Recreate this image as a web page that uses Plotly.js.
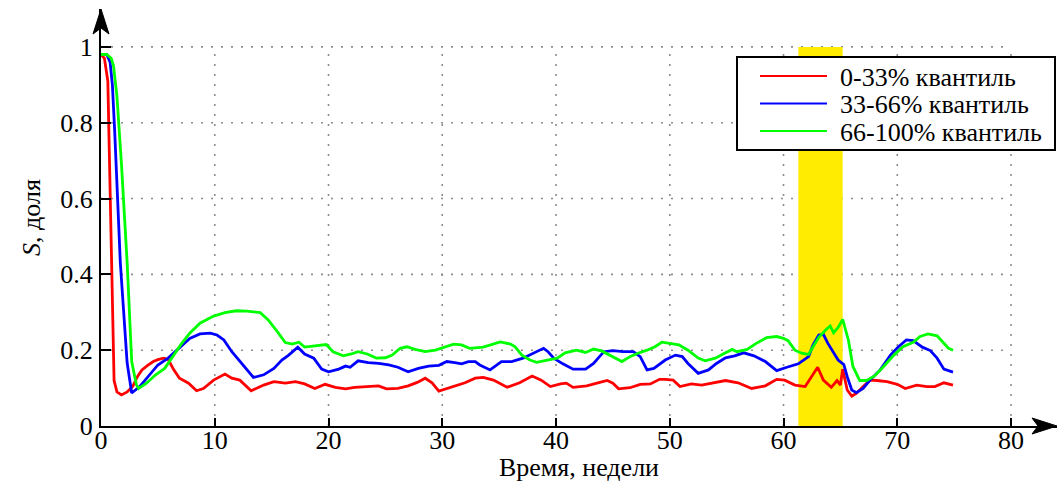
<!DOCTYPE html>
<html>
<head>
<meta charset="utf-8">
<script src="https://cdn.plot.ly/plotly-3.0.1.min.js"></script>
<style>
  html, body { margin: 0; padding: 0; background: #ffffff; }
  #chart { width: 1062px; height: 482px; }
</style>
</head>
<body>
<div id="chart"></div>
<script>
// ---------------- data ----------------
const seriesNames = ['0-33% квантиль', '33-66% квантиль', '66-100% квантиль'];
const seriesColors = ['#ff0000', '#0000ff', '#00ff00'];

const redX = [0,0.3,0.6,0.8,1.0,1.15,1.4,1.8,2.3,2.8,3.2,3.6,4.1,4.6,5.0,5.5,5.9,6.4,6.9,7.7,8.4,9.0,9.9,10.9,11.5,12.2,13.2,14.3,15.2,16.2,17.1,17.9,18.8,19.7,20.6,21.5,22.3,23.4,24.4,25.1,26.1,27.0,27.8,28.5,29.1,29.7,30.2,31.1,32.0,32.9,33.6,34.5,35.7,36.8,37.9,38.7,39.5,40.4,40.9,41.5,42.7,43.6,44.5,45.0,45.5,46.5,47.4,48.3,49.1,49.6,50.3,50.9,51.9,52.8,53.8,54.9,56.0,57.2,58.4,59.4,60.1,61.0,61.9,62.5,63.0,63.5,64.2,64.7,65.0,65.2,65.6,66.0,66.4,67.0,67.6,68.2,69.1,70.0,70.7,71.7,72.6,73.3,74.1,74.9];
const redY = [0.98,0.97,0.91,0.62,0.34,0.12,0.09,0.082,0.09,0.105,0.13,0.148,0.16,0.17,0.175,0.179,0.176,0.148,0.126,0.113,0.093,0.099,0.121,0.137,0.126,0.121,0.093,0.108,0.117,0.113,0.117,0.111,0.099,0.110,0.102,0.098,0.102,0.104,0.106,0.098,0.099,0.106,0.115,0.126,0.114,0.092,0.097,0.106,0.114,0.126,0.128,0.121,0.102,0.114,0.132,0.121,0.104,0.111,0.113,0.102,0.106,0.113,0.120,0.113,0.098,0.101,0.110,0.111,0.123,0.123,0.121,0.104,0.111,0.108,0.113,0.120,0.114,0.099,0.106,0.123,0.121,0.108,0.104,0.130,0.155,0.121,0.102,0.12,0.108,0.15,0.095,0.079,0.086,0.104,0.121,0.12,0.117,0.110,0.099,0.108,0.104,0.104,0.114,0.108];

const blueX = [0,0.5,0.8,1.0,1.2,1.7,2.3,2.7,3.4,4.3,5.0,5.9,7.0,7.8,8.7,9.6,10.2,10.8,11.5,12.2,13.0,13.4,14.3,15.2,15.9,16.5,17.3,17.9,18.7,19.4,20.0,20.9,21.5,21.9,22.6,23.5,24.4,25.3,26.1,27.0,27.9,28.8,29.7,30.4,31.1,31.7,32.3,32.9,33.3,34.2,35.2,36.1,37.1,38.0,38.9,39.3,39.8,40.6,41.5,42.6,43.3,44.2,45.0,45.9,46.8,47.4,48.0,48.6,49.1,49.6,50.5,51.1,51.6,52.5,53.4,54.1,54.9,55.7,56.5,57.4,58.4,59.4,60.3,61.3,62.2,62.6,63.1,63.5,63.9,64.4,64.8,65.3,65.6,66.0,66.4,67.0,67.6,68.5,69.4,70.1,70.8,71.4,72.2,72.9,73.5,74.1,74.9];
const blueY = [0.98,0.98,0.96,0.9,0.78,0.43,0.166,0.087,0.104,0.135,0.161,0.179,0.209,0.231,0.243,0.245,0.240,0.227,0.196,0.170,0.143,0.128,0.135,0.152,0.174,0.187,0.208,0.19,0.179,0.150,0.143,0.150,0.158,0.155,0.172,0.167,0.165,0.161,0.155,0.143,0.152,0.158,0.160,0.170,0.167,0.164,0.170,0.170,0.161,0.148,0.17,0.17,0.179,0.192,0.205,0.196,0.179,0.164,0.150,0.150,0.165,0.196,0.199,0.196,0.196,0.183,0.148,0.152,0.164,0.174,0.187,0.183,0.165,0.139,0.148,0.165,0.18,0.185,0.193,0.185,0.170,0.146,0.155,0.164,0.183,0.214,0.24,0.242,0.218,0.192,0.174,0.162,0.130,0.095,0.088,0.099,0.121,0.148,0.187,0.209,0.227,0.225,0.208,0.199,0.179,0.150,0.142];

const greenX = [0,0.5,0.9,1.1,1.4,1.8,2.3,2.7,3.1,3.3,4.0,4.8,5.6,6.2,7.0,7.8,8.7,9.9,10.9,11.9,12.8,14.0,14.7,15.5,16.2,16.8,17.4,17.9,18.8,19.8,20.4,21.3,22.0,22.6,23.4,24.2,25.0,25.6,26.3,26.9,27.6,28.5,29.4,30.2,31.0,31.7,32.4,33.6,34.2,35.1,36.0,36.4,37.0,37.7,38.3,39.2,40.1,40.8,41.8,42.6,43.3,44.0,44.8,45.8,46.5,47.2,48.0,48.7,49.3,50.2,50.8,51.6,52.5,53.1,54.0,54.9,55.5,55.9,56.8,57.6,58.5,59.4,60.0,60.4,61.0,61.6,62.2,62.6,63.1,63.7,64.1,64.4,64.8,65.2,65.7,66.1,66.7,67.3,68.0,68.8,69.7,70.5,71.4,72.0,72.7,73.5,74.1,74.5,74.9];
const greenY = [0.98,0.98,0.97,0.95,0.87,0.69,0.43,0.17,0.11,0.099,0.113,0.135,0.152,0.179,0.214,0.245,0.271,0.290,0.299,0.304,0.303,0.299,0.28,0.249,0.22,0.216,0.221,0.208,0.211,0.215,0.196,0.185,0.19,0.196,0.19,0.179,0.18,0.187,0.205,0.209,0.202,0.196,0.2,0.208,0.216,0.214,0.205,0.208,0.214,0.222,0.216,0.209,0.187,0.174,0.168,0.174,0.179,0.193,0.2,0.194,0.203,0.198,0.185,0.170,0.183,0.192,0.2,0.209,0.221,0.216,0.214,0.2,0.179,0.172,0.179,0.193,0.202,0.196,0.202,0.218,0.233,0.236,0.231,0.225,0.2,0.192,0.189,0.209,0.234,0.253,0.264,0.246,0.26,0.281,0.227,0.157,0.12,0.12,0.132,0.157,0.187,0.209,0.221,0.236,0.243,0.238,0.218,0.205,0.2];

const xTicks = [0, 10, 20, 30, 40, 50, 60, 70, 80];
const yTicks = [0, 0.2, 0.4, 0.6, 0.8, 1];
const highlightBand = [61.3, 65.2];   // highlighted period, weeks

const xTitle = 'Время, недели';
const yTitle = '<i>S</i>, доля';

// ---------------- layout helpers ----------------
const FONT = "'Liberation Serif', 'Times New Roman', Times, serif";
const FS = 26;
const M = {l: 101, r: 5, t: 9, b: 56};
const W = 1062, H = 482;
const PW = W - M.l - M.r, PH = H - M.t - M.b;
const xMax = 84.04, yMax = 1.1;
const gx = px => (px - M.l) / PW;           // pixel -> paper x
const gy = py => (H - M.b - py) / PH;       // pixel -> paper y

const traces = [[redX, redY], [blueX, blueY], [greenX, greenY]].map((d, i) => ({
  type: 'scatter', mode: 'lines', x: d[0], y: d[1], name: seriesNames[i],
  line: {color: seriesColors[i], width: 2.8}, showlegend: false, hoverinfo: 'x+y'
}));

const shapes = [];
// highlighted band
shapes.push({type: 'rect', xref: 'x', yref: 'y', x0: highlightBand[0], x1: highlightBand[1], y0: 0, y1: yTicks[yTicks.length - 1],
  fillcolor: '#ffec00', line: {width: 0}, layer: 'between'});
// dotted grid limited to [0,80] x [0,1]
const gxMax = xTicks[xTicks.length - 1], gyMax = yTicks[yTicks.length - 1];
xTicks.slice(1).forEach(v => shapes.push({type: 'line', xref: 'x', yref: 'y', x0: v, x1: v, y0: 0, y1: gyMax,
  line: {color: '#8c8c8c', width: 1.6, dash: '2px,8px'}, layer: 'below'}));
yTicks.slice(1).forEach(v => shapes.push({type: 'line', xref: 'x', yref: 'y', x0: 0, x1: gxMax, y0: v, y1: v,
  line: {color: '#8c8c8c', width: 1.6, dash: '2px,8px'}, layer: 'below'}));
// arrow heads on the axes
shapes.push({type: 'path', xref: 'paper', yref: 'paper', xsizemode: 'pixel', ysizemode: 'pixel', xanchor: 0, yanchor: 1,
  path: 'M0,0 L-8,-25 L0,-19 L8,-25 Z', fillcolor: '#000', line: {color: '#000', width: 1}, layer: 'above'});
shapes.push({type: 'path', xref: 'paper', yref: 'paper', xsizemode: 'pixel', ysizemode: 'pixel', xanchor: 1, yanchor: 0,
  path: 'M0,0 L-25,8 L-19,0 L-25,-8 Z', fillcolor: '#000', line: {color: '#000', width: 1}, layer: 'above'});
// legend box
shapes.push({type: 'rect', xref: 'paper', yref: 'paper', x0: gx(737), x1: gx(1055), y0: gy(150), y1: gy(57),
  fillcolor: '#ffffff', line: {color: '#000', width: 2}, layer: 'above'});
const legendRows = [76, 103.5, 131];
const annotations = [];
seriesNames.forEach((name, i) => {
  shapes.push({type: 'line', xref: 'paper', yref: 'paper', x0: gx(760), x1: gx(827), y0: gy(legendRows[i]), y1: gy(legendRows[i]),
    line: {color: seriesColors[i], width: 2.2}, layer: 'above'});
  annotations.push({xref: 'paper', yref: 'paper', x: gx(838), y: gy(legendRows[i] + 1), xanchor: 'left', yanchor: 'middle',
    text: name, showarrow: false, font: {family: FONT, size: FS, color: '#000'}});
});

const layout = {
  width: W, height: H,
  margin: M,
  paper_bgcolor: '#ffffff', plot_bgcolor: '#ffffff',
  font: {family: FONT, size: FS, color: '#000'},
  showlegend: false,
  xaxis: {
    range: [0, xMax], tickmode: 'array', tickvals: xTicks, ticktext: xTicks.map(String),
    showgrid: false, zeroline: false, showline: true, linecolor: '#000', linewidth: 2,
    ticks: 'inside', ticklen: 8, tickwidth: 2, tickcolor: '#000',
    tickfont: {family: FONT, size: FS, color: '#000'}, ticklabelstandoff: -10,
    title: {text: xTitle, font: {family: FONT, size: FS, color: '#000'}, standoff: 2}
  },
  yaxis: {
    range: [0, yMax], tickmode: 'array', tickvals: yTicks, ticktext: yTicks.map(String),
    showgrid: false, zeroline: false, showline: true, linecolor: '#000', linewidth: 2,
    ticks: 'inside', ticklen: 10, tickwidth: 2, tickcolor: '#000',
    tickfont: {family: FONT, size: FS, color: '#000'}, ticklabelstandoff: 1,
    title: {text: yTitle, font: {family: FONT, size: FS, color: '#000'}, standoff: 12}
  },
  shapes: shapes,
  annotations: annotations
};

Plotly.newPlot('chart', traces, layout, {displayModeBar: false, staticPlot: true});
</script>
</body>
</html>
